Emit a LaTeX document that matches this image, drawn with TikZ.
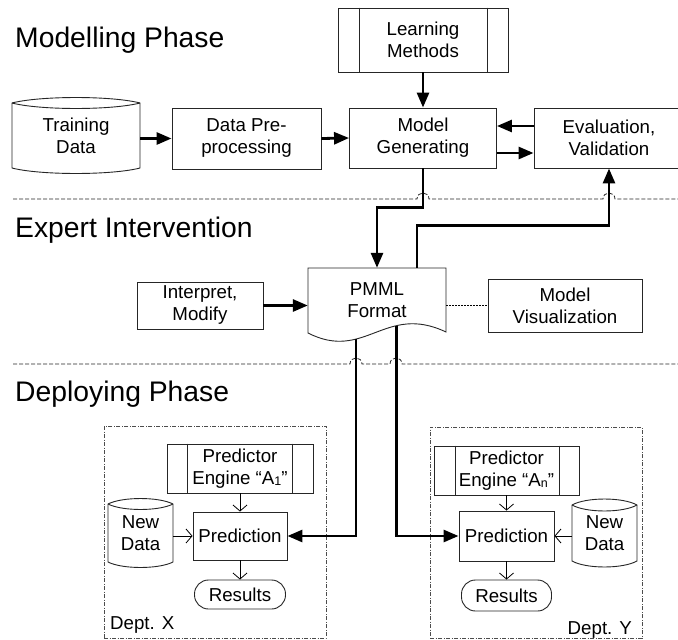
\documentclass[tikz,border=0pt]{standalone}
\usepackage{fontspec}
\setmainfont{Liberation Sans}
\usetikzlibrary{arrows.meta,calc}
\newcommand\cylshape[5]{%
  \pgfmathsetmacro\cyXa{#1+0.22*(#2-#1)}%
  \pgfmathsetmacro\cyXb{#2-0.22*(#2-#1)}%
  \pgfmathsetmacro\cyYu{#3-1.33*#5}%
  \pgfmathsetmacro\cyYd{#3+1.33*#5}%
  \pgfmathsetmacro\cyYe{#4+1.33*#5}%
  \draw[box] (#1,#3) .. controls (\cyXa,\cyYu) and (\cyXb,\cyYu) .. (#2,#3) -- (#2,#4)
     .. controls (\cyXb,\cyYe) and (\cyXa,\cyYe) .. (#1,#4) -- cycle;
  \draw[box] (#1,#3) .. controls (\cyXa,\cyYd) and (\cyXb,\cyYd) .. (#2,#3);
}
\begin{document}
\begin{tikzpicture}[x=1pt,y=-1pt,
  every node/.style={font=\fontsize{18.7}{22}\selectfont, inner sep=0pt, align=center},
  box/.style={draw=black!85, line width=0.9pt},
  heading/.style={font=\fontsize{28.3}{34}\selectfont, anchor=base west},
  secline/.style={draw=black!85, line width=0.8pt, dash pattern=on 4pt off 2pt},
  deptbox/.style={draw=black!70, line width=0.8pt, dash pattern=on 4pt off 1.5pt on 1pt off 1.5pt},
  bigarrow/.style={line width=2.8pt, -{Triangle[length=15pt,width=12pt]}},
  smallarrow/.style={line width=0.8pt, -{Straight Barb[length=6pt,width=14pt]}},
  dotline/.style={line width=1pt, dash pattern=on 1.5pt off 1.5pt},
  stadium/.style={box, rounded corners=14pt},
]
\useasboundingbox (0,0) rectangle (678,640);
\clip (0,0) rectangle (678,640);
\fill[white] (0,0) rectangle (678,640);

% headings
\node[heading] (h1) at (15,47) {Modelling Phase};
\node[heading] (h2) at (15,237) {Expert Intervention};
\node[heading] (h3) at (15,401) {Deploying Phase};

% section separators with hops
\draw[secline] (13,199) -- (417,199) .. controls (417,191) and (429,191) .. (429,199)
   -- (603,199) .. controls (603,191) and (615,191) .. (615,199) -- (678,199);
\draw[secline] (13,364) -- (350,364) .. controls (350,356) and (362,356) .. (362,364)
   -- (390,364) .. controls (390,356) and (402,356) .. (402,364) -- (678,364);

% ---- Modelling phase
\node[box, minimum width=170pt, minimum height=64pt] (lm) at (423,40) {Learning\\Methods};
\draw[box] ([xshift=22pt]lm.north west) -- ([xshift=22pt]lm.south west)
           ([xshift=-21pt]lm.north east) -- ([xshift=-21pt]lm.south east);
\node[box, minimum width=147pt, minimum height=60pt] (mg) at (423,138) {Model\\Generating};
\node[box, minimum width=150pt, minimum height=60pt] (ev) at (609,138) {Evaluation,\\Validation};
\node[box, minimum width=149pt, minimum height=61pt] (dp) at (246.5,138.5) {Data Pre-\\processing};
\cylshape{12}{140}{103}{168}{5.5}
\node[minimum width=128pt, minimum height=65pt] (td) at (76,135.5) {Training\\Data};

% ---- Expert intervention
\node[box, minimum width=126pt, minimum height=47pt] (im) at (200,305.5) {Interpret,\\Modify};
\draw[box] (308,268) -- (446,268) -- (446,332) .. controls (385,303) and (365,362) .. (308,333) -- cycle;
\path (446,332) .. controls (385,303) and (365,362) .. (308,333)
   coordinate[pos=0.33] (pmo2) coordinate[pos=0.663] (pmo1);
\node[minimum width=138pt, minimum height=65pt] (pm) at (377,300.5) {PMML\\Format};
\node[box, minimum width=154pt, minimum height=53pt] (mv) at (565,305.5) {Model\\Visualization};

% ---- Deploying phase
\node[deptbox, minimum width=222pt, minimum height=212pt] (dx) at (215,532) {};
\node[deptbox, minimum width=212pt, minimum height=211pt] (dy) at (536,532.5) {};
\node[anchor=base west] (dxl) at (110,629) {Dept. X};
\node[anchor=base east] (dyl) at (632,634) {Dept. Y};

\node[box, minimum width=146pt, minimum height=49pt] (pe1) at (240,468.5)
  {Predictor\\Engine “A\raisebox{-1pt}{\fontsize{12.5}{12.5}\selectfont 1}”};
\draw[box] ([xshift=21pt]pe1.north west) -- ([xshift=21pt]pe1.south west)
           ([xshift=-21pt]pe1.north east) -- ([xshift=-21pt]pe1.south east);
\node[box, minimum width=94pt, minimum height=48pt] (pr1) at (240,536) {Prediction};
\node[stadium, minimum width=91pt, minimum height=29pt] (res1) at (240,594.5) {Results};
\cylshape{108}{173}{504}{562}{5.5}
\node[minimum width=65pt, minimum height=58pt] (nd1) at (140.5,533) {New\\Data};

\node[box, minimum width=145pt, minimum height=49pt] (pe2) at (506.5,470.5)
  {Predictor\\Engine “A\raisebox{-1pt}{\fontsize{12.5}{12.5}\selectfont n}”};
\draw[box] ([xshift=22pt]pe2.north west) -- ([xshift=22pt]pe2.south west)
           ([xshift=-20pt]pe2.north east) -- ([xshift=-20pt]pe2.south east);
\node[box, minimum width=95pt, minimum height=50pt] (pr2) at (506.5,536) {Prediction};
\node[stadium, minimum width=90pt, minimum height=31pt] (res2) at (506.5,595.5) {Results};
\cylshape{572}{637}{505}{561}{6}
\node[minimum width=65pt, minimum height=56pt] (nd2) at (604.5,533) {New\\Data};

% ---- connectors
\draw[bigarrow] (dp.west -| td.east) -- (dp.west);
\draw[bigarrow] (dp.east) -- (mg.west);
\draw[bigarrow] (lm.south) -- (mg.north);
\draw[bigarrow] ([yshift=12pt]ev.west) -- ([yshift=12pt]mg.east);
\draw[bigarrow] ([yshift=-15pt]mg.east) -- ([yshift=-15pt]ev.west);
\draw[bigarrow] (mg.south) -- ++(0,39) -| (pm.north);
\draw[bigarrow] ([xshift=40pt]pm.north) -- ++(0,-42) -| (ev.south);
\draw[bigarrow] (im.east) -- (im.east -| pm.west);
\draw[dotline] (mv.west -| pm.east) -- (mv.west);
\draw[bigarrow] (pmo1) |- (pr1.east);
\draw[bigarrow] (pmo2) |- (pr2.west);

\draw[smallarrow] (pe1.south) -- (pr1.north);
\draw[smallarrow] (pr1.south) -- (res1.north);
\draw[smallarrow] (nd1.east |- pr1.west) -- (pr1.west);
\draw[smallarrow] (pe2.south) -- (pr2.north);
\draw[smallarrow] (pr2.south) -- (res2.north);
\draw[smallarrow] (nd2.west |- pr2.east) -- (pr2.east);
\end{tikzpicture}
\end{document}
